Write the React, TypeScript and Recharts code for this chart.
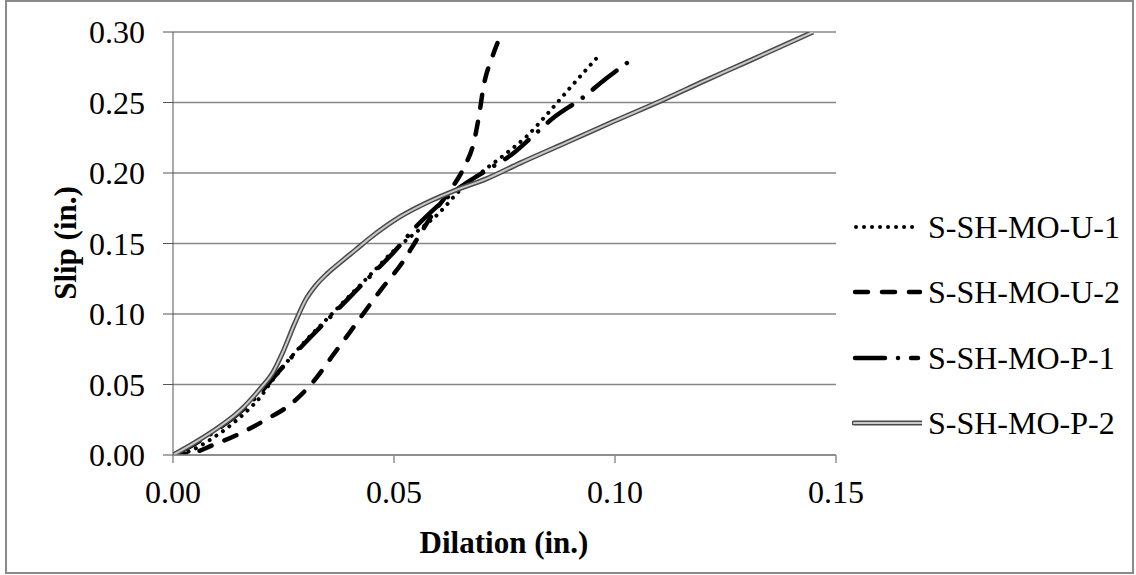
import { CartesianGrid, Line, LineChart, XAxis, YAxis } from 'recharts'

// S-SH-MO-U-1 (dotted)
const u1Dilation = [0, 0.004, 0.008, 0.013, 0.017, 0.02, 0.022, 0.025, 0.03, 0.035, 0.04, 0.045, 0.05, 0.055, 0.06, 0.065, 0.07, 0.075, 0.08, 0.085, 0.09, 0.096]
const u1Slip = [0, 0.003, 0.01, 0.021, 0.032, 0.042, 0.051, 0.063, 0.081, 0.097, 0.113, 0.129, 0.145, 0.158, 0.171, 0.188, 0.201, 0.213, 0.226, 0.243, 0.261, 0.282]

// S-SH-MO-U-2 (dashed)
const u2Dilation = [0, 0.005, 0.009, 0.015, 0.021, 0.027, 0.032, 0.036, 0.04, 0.043, 0.047, 0.052, 0.055, 0.059, 0.063, 0.066, 0.068, 0.0692, 0.0703, 0.0722, 0.0745]
const u2Slip = [0, 0.002, 0.007, 0.015, 0.025, 0.037, 0.053, 0.07, 0.087, 0.1, 0.117, 0.137, 0.152, 0.172, 0.189, 0.205, 0.221, 0.24, 0.262, 0.282, 0.3]

// S-SH-MO-P-1 (dash-dot)
const p1Dilation = [0, 0.005, 0.01, 0.015, 0.02, 0.025, 0.03, 0.035, 0.04, 0.045, 0.05, 0.055, 0.06, 0.065, 0.071, 0.077, 0.081, 0.086, 0.0925, 0.098, 0.104]
const p1Slip = [0, 0.008, 0.018, 0.03, 0.045, 0.063, 0.08, 0.096, 0.112, 0.128, 0.144, 0.162, 0.177, 0.19, 0.202, 0.214, 0.225, 0.239, 0.253, 0.267, 0.281]

// S-SH-MO-P-2 (double line)
const p2Dilation = [0, 0.005, 0.01, 0.015, 0.02, 0.0225, 0.025, 0.0275, 0.03, 0.0325, 0.035, 0.038, 0.0415, 0.0446, 0.0514, 0.0588, 0.0633, 0.071, 0.0785, 0.09, 0.1, 0.111, 0.12, 0.13, 0.1448]
const p2Slip = [0, 0.009, 0.019, 0.031, 0.048, 0.058, 0.074, 0.093, 0.11, 0.121, 0.129, 0.137, 0.146, 0.154, 0.169, 0.181, 0.187, 0.196, 0.207, 0.223, 0.237, 0.252, 0.265, 0.279, 0.3]

const xTicks = [0, 0.05, 0.1, 0.15]
const yTicks = [0, 0.05, 0.1, 0.15, 0.2, 0.25, 0.3]
const seriesNames = ['S-SH-MO-U-1', 'S-SH-MO-U-2', 'S-SH-MO-P-1', 'S-SH-MO-P-2']

const FONT = "'Liberation Serif', 'Times New Roman', serif"
const GRID = '#878787'

const toPoints = (xs: number[], ys: number[]) => xs.map((x, i) => ({ x, y: ys[i] }))

const u1Data = toPoints(u1Dilation, u1Slip)
const u2Data = toPoints(u2Dilation, u2Slip)
const p1Data = toPoints(p1Dilation, p1Slip)
const p2Data = toPoints(p2Dilation, p2Slip)

// dash patterns shared by plot lines and legend samples
const DOT = { strokeWidth: 4, strokeDasharray: '0.01 8', strokeLinecap: 'round' as const }
const DASH = { strokeWidth: 4.5, strokeDasharray: '13 14', strokeLinecap: 'round' as const }
const DASHDOT = { strokeWidth: 4.5, strokeDasharray: '30 13 0.01 13', strokeLinecap: 'round' as const }

function LegendSample({ kind }: { kind: number }) {
  return (
    <svg width={70} height={30} style={{ display: 'block', marginRight: 6 }}>
      {kind === 0 && <line x1={4} y1={15} x2={68} y2={15} stroke="#000" {...DOT} />}
      {kind === 1 && <line x1={3} y1={15} x2={68} y2={15} stroke="#000" {...DASH} />}
      {kind === 2 && <line x1={3} y1={15} x2={66} y2={15} stroke="#000" {...DASHDOT} />}
      {kind === 3 && (
        <>
          <line x1={2} y1={15} x2={70} y2={15} stroke="#4a4a4a" strokeWidth={5} strokeLinecap="round" />
          <line x1={2} y1={15} x2={70} y2={15} stroke="#c8c8c8" strokeWidth={2} strokeLinecap="round" />
        </>
      )}
    </svg>
  )
}

const legendCenters = [227, 292, 358, 423]

export default function App() {
  return (
    <div style={{ position: 'relative', width: 1136, height: 575, background: '#fff', fontFamily: FONT }}>
      <style>{'body{margin:0}'}</style>
      <div
        style={{
          position: 'absolute',
          left: 5,
          top: 0,
          width: 1129,
          height: 574,
          boxSizing: 'border-box',
          border: '2px solid #8a8a8a',
        }}
      />
      <LineChart
        width={1136}
        height={575}
        margin={{ top: 32, right: 300, bottom: 0, left: 0 }}
        style={{ position: 'absolute', left: 0, top: 0 }}
      >
        <CartesianGrid vertical={false} stroke={GRID} strokeWidth={1.4} />
        <XAxis
          type="number"
          dataKey="x"
          domain={[0, 0.15]}
          ticks={xTicks}
          tickFormatter={(v: number) => v.toFixed(2)}
          height={120}
          stroke={GRID}
          strokeWidth={1.4}
          tickSize={8}
          tickMargin={17}
          tick={{ fill: '#000', fontSize: 32, fontFamily: FONT }}
          allowDataOverflow
        />
        <YAxis
          type="number"
          domain={[0, 0.3]}
          ticks={yTicks}
          tickFormatter={(v: number) => v.toFixed(2)}
          width={173}
          stroke="#555"
          tickSize={10}
          tickMargin={18}
          tick={{ fill: '#000', fontSize: 32, fontFamily: FONT }}
          allowDataOverflow
        />
        <Line data={u1Data} dataKey="y" type="monotone" stroke="#000" {...DOT} dot={false} isAnimationActive={false} />
        <Line data={u2Data} dataKey="y" type="monotone" stroke="#000" {...DASH} dot={false} isAnimationActive={false} />
        <Line data={p1Data} dataKey="y" type="monotone" stroke="#000" {...DASHDOT} dot={false} isAnimationActive={false} />
        <Line data={p2Data} dataKey="y" type="monotone" stroke="#4a4a4a" strokeWidth={5} dot={false} isAnimationActive={false} />
        <Line data={p2Data} dataKey="y" type="monotone" stroke="#c8c8c8" strokeWidth={2} dot={false} isAnimationActive={false} />
      </LineChart>

      <div
        style={{
          position: 'absolute',
          left: 65,
          top: 243,
          transform: 'translate(-50%, -50%) rotate(-90deg)',
          fontSize: 31,
          fontWeight: 'bold',
          whiteSpace: 'nowrap',
          lineHeight: '31px',
        }}
      >
        Slip (in.)
      </div>
      <div
        style={{
          position: 'absolute',
          left: 504,
          top: 527,
          transform: 'translateX(-50%)',
          fontSize: 31,
          fontWeight: 'bold',
          whiteSpace: 'nowrap',
          lineHeight: '31px',
        }}
      >
        Dilation (in.)
      </div>

      {seriesNames.map((name, i) => (
        <div
          key={name}
          style={{
            position: 'absolute',
            left: 852,
            top: legendCenters[i] - 15,
            height: 30,
            display: 'flex',
            alignItems: 'center',
            fontSize: 32,
            lineHeight: '30px',
            whiteSpace: 'nowrap',
          }}
        >
          <LegendSample kind={i} />
          <span>{name}</span>
        </div>
      ))}
    </div>
  )
}
